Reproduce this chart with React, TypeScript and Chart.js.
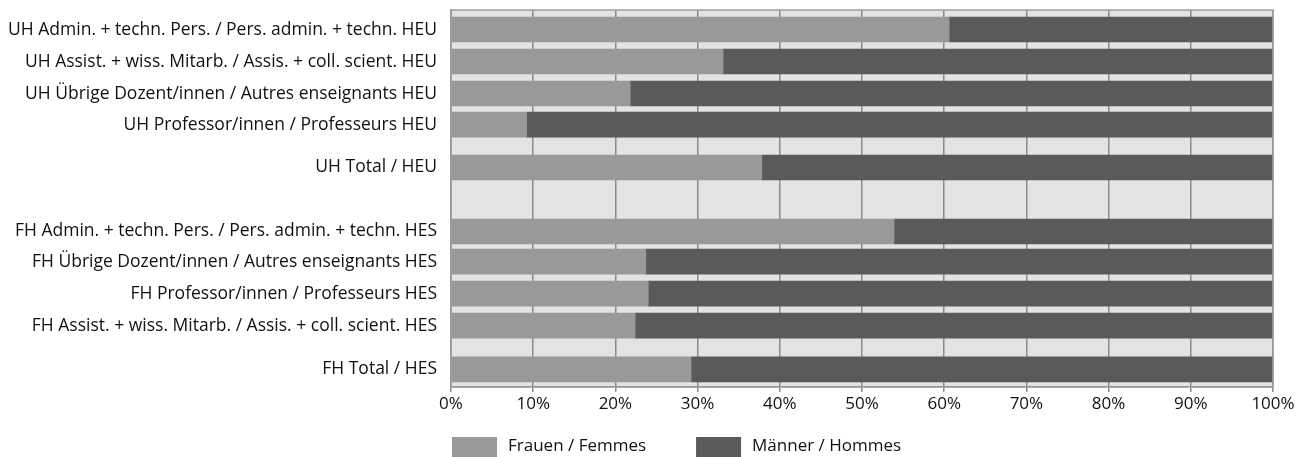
import React, { useEffect, useRef } from "react";
import { Chart, registerables } from "chart.js";

Chart.register(...registerables);

const categories = [
  "UH Admin. + techn. Pers. / Pers. admin. + techn. HEU",
  "UH Assist. + wiss. Mitarb. / Assis. + coll. scient. HEU",
  "UH Übrige Dozent/innen / Autres enseignants HEU",
  "UH Professor/innen / Professeurs HEU",
  "UH Total / HEU",
  "FH Admin. + techn. Pers. / Pers. admin. + techn. HES",
  "FH Übrige Dozent/innen / Autres enseignants HES",
  "FH Professor/innen / Professeurs HES",
  "FH Assist. + wiss. Mitarb. / Assis. + coll. scient. HES",
  "FH Total / HES",
];
// row positions along the category axis (in row units, gaps between groups)
const rowPos = [0.61, 1.61, 2.61, 3.58, 4.92, 6.92, 7.86, 8.86, 9.86, 11.23];
const rowMax = 11.78;

const frauen = [60.6, 33.1, 21.8, 9.2, 37.8, 53.9, 23.7, 24.0, 22.4, 29.2];
const maenner = [39.4, 66.9, 78.2, 90.8, 62.2, 46.1, 76.3, 76.0, 77.6, 70.8];

const seriesLabels = ["Frauen / Femmes", "Männer / Hommes"];
const seriesColors = ["#999999", "#5a5a5a"];
const xTicks = [0, 10, 20, 30, 40, 50, 60, 70, 80, 90, 100];

const FONT = "'Open Sans', sans-serif";
const FS = 17;
const FSY = 17.5;

const bgPlugin = {
  id: "plotBg",
  beforeDraw(chart: any) {
    const { ctx, chartArea: a } = chart;
    ctx.save();
    ctx.fillStyle = "#e3e3e3";
    ctx.fillRect(a.left, a.top, a.right - a.left, a.bottom - a.top);
    ctx.restore();
  },
  afterDraw(chart: any) {
    const { ctx, chartArea: a } = chart;
    ctx.save();
    ctx.strokeStyle = "#a0a0a0";
    ctx.lineWidth = 1.5;
    ctx.strokeRect(a.left, a.top, a.right - a.left, a.bottom - a.top);
    // legend
    ctx.font = FS + "px " + FONT;
    ctx.textBaseline = "middle";
    ctx.textAlign = "left";
    let x = a.left + 1;
    const y = chart.height - 20;
    chart.data.datasets.forEach((ds: any) => {
      ctx.fillStyle = ds.backgroundColor;
      ctx.fillRect(x, y, 45, 20);
      x += 45 + 11;
      ctx.fillStyle = "#111";
      ctx.fillText(ds.label, x, y + 9);
      x += ctx.measureText(ds.label).width + 50;
    });
    ctx.restore();
  },
};

export default function App() {
  const ref = useRef<HTMLCanvasElement>(null);
  useEffect(() => {
    if (!ref.current) return;
    const chart = new Chart(ref.current, {
      type: "bar",
      data: {
        datasets: [
          {
            label: seriesLabels[0],
            data: rowPos.map((p, i) => ({ x: frauen[i], y: p })),
            backgroundColor: seriesColors[0],
            barThickness: 25,
          },
          {
            label: seriesLabels[1],
            data: rowPos.map((p, i) => ({ x: maenner[i], y: p })),
            backgroundColor: seriesColors[1],
            barThickness: 25,
          },
        ] as any,
      },
      options: {
        indexAxis: "y",
        animation: false,
        responsive: false,
        maintainAspectRatio: false,
        layout: { padding: { top: 10, right: 30, left: 0, bottom: 0 } },
        plugins: { legend: { display: false }, tooltip: { enabled: false } },
        scales: {
          x: {
            type: "linear",
            stacked: true,
            min: 0,
            max: 100,
            afterBuildTicks: (s: any) => {
              s.ticks = xTicks.map((v) => ({ value: v }));
            },
            afterFit: (s: any) => {
              s.height = 70;
            },
            grid: { color: "#8a8a8a", lineWidth: 1.5, tickLength: 5 },
            border: { color: "#8a8a8a", width: 1.5 },
            ticks: {
              color: "#111",
              padding: 2,
              font: { family: FONT, size: FS },
              callback: (v: any) => v + "%",
              maxRotation: 0,
            },
          },
          y: {
            type: "linear",
            stacked: true,
            reverse: true,
            offset: false,
            min: 0,
            max: rowMax,
            afterBuildTicks: (s: any) => {
              s.ticks = rowPos.map((v) => ({ value: v }));
            },
            afterFit: (s: any) => {
              s.width = 451;
              s.paddingTop = 0;
              s.paddingBottom = 0;
            },
            grid: { display: false },
            border: { display: true, color: "#8a8a8a", width: 1.5 },
            ticks: {
              color: "#111",
              padding: 6,
              autoSkip: false,
              font: { family: FONT, size: FSY },
              callback: (_v: any, i: number) => categories[i],
            },
          },
        },
      } as any,
      plugins: [bgPlugin],
    });
    return () => chart.destroy();
  }, []);
  return (
    <div style={{ position: "absolute", left: 0, top: 0, width: 1303, height: 457, background: "#fff" }}>
      <canvas ref={ref} width={1303} height={457} style={{ width: 1303, height: 457 }} />
    </div>
  );
}
